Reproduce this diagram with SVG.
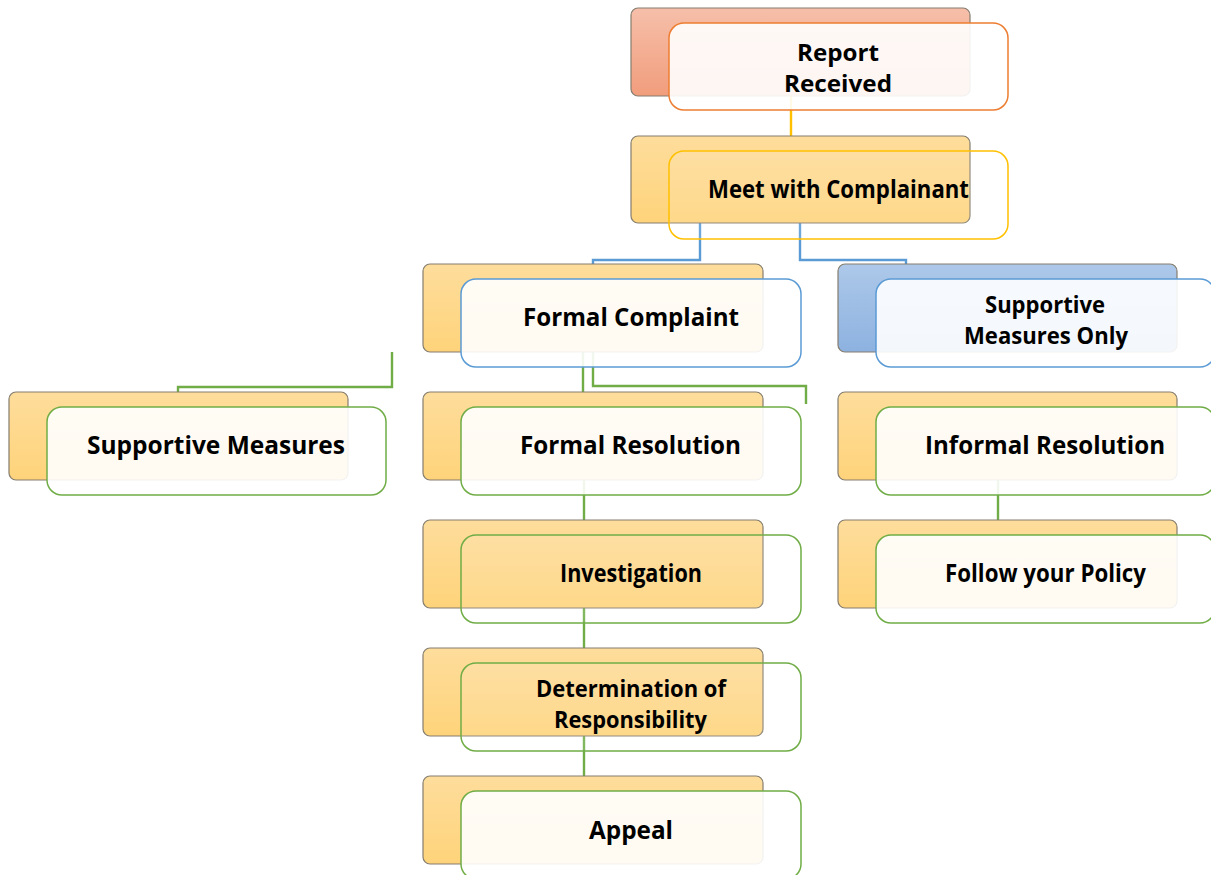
<svg xmlns="http://www.w3.org/2000/svg" width="1211" height="875" viewBox="0 0 1211 875">
<defs>
<linearGradient id="gOr" x1="0" y1="0" x2="0" y2="1"><stop offset="0" stop-color="#fedd9c"/><stop offset="1" stop-color="#fed37a"/></linearGradient>
<linearGradient id="gSal" x1="0" y1="0" x2="0" y2="1"><stop offset="0" stop-color="#f6bfaa"/><stop offset="1" stop-color="#f19d7c"/></linearGradient>
<linearGradient id="gBl" x1="0" y1="0" x2="0" y2="1"><stop offset="0" stop-color="#adc8e9"/><stop offset="1" stop-color="#8db2e0"/></linearGradient>
<style>
.bk{stroke:#857d6e;stroke-width:1.2}
.fr{stroke-width:1.5;fill:#ffffff;fill-opacity:0.9}
.tr{fill-opacity:0.12}
.og{stroke:#ed7d31}
.gd{stroke:#ffc000}
.bl{stroke:#5b9bd5}
.gr{stroke:#70ad47}
.cn{fill:none;stroke-width:2.4}
text{font-family:"Open Sans","Noto Sans","Liberation Sans",sans-serif;font-weight:bold;font-size:25px;fill:#000;text-anchor:middle}
text.two{font-size:22.5px}
</style>
</defs>
<rect width="1211" height="875" fill="#ffffff"/>
<g id="connectors">
<path class="cn" stroke="#ffc000" d="M791,96 V136"/>
<path class="cn" stroke="#5b9bd5" d="M700,223 V260 H593 V264"/>
<path class="cn" stroke="#5b9bd5" d="M800,223 V260 H906 V264"/>
<path class="cn" stroke="#70ad47" d="M583,352 V392"/>
<path class="cn" stroke="#70ad47" d="M593,352 V386 H806 V404"/>
<path class="cn" stroke="#70ad47" d="M392,352 V387 H178 V392"/>
<path class="cn" stroke="#70ad47" d="M584,480 V520"/>
<path class="cn" stroke="#70ad47" d="M584,608 V648"/>
<path class="cn" stroke="#70ad47" d="M584,736 V776"/>
<path class="cn" stroke="#70ad47" d="M998,480 V520"/>
</g>
<g id="report-received">
<rect class="bk" x="631" y="8" width="339" height="88" rx="7" fill="url(#gSal)"/>
<rect class="fr og" x="669" y="23" width="339" height="87" rx="15"/>
<text class="two" x="838" y="61" textLength="82" lengthAdjust="spacingAndGlyphs">Report</text>
<text class="two" x="838" y="92" textLength="108" lengthAdjust="spacingAndGlyphs">Received</text>
</g>
<g id="meet-with-complainant">
<rect class="bk" x="631" y="136" width="339" height="87" rx="7" fill="url(#gOr)"/>
<rect class="fr tr gd" x="669" y="151" width="339" height="88" rx="15"/>
<text x="838.5" y="198" textLength="261" lengthAdjust="spacingAndGlyphs">Meet with Complainant</text>
</g>
<g id="formal-complaint">
<rect class="bk" x="423" y="264" width="340" height="88" rx="7" fill="url(#gOr)"/>
<rect class="fr bl" x="461" y="279" width="340" height="88" rx="15"/>
<text x="631" y="326" textLength="216" lengthAdjust="spacingAndGlyphs">Formal Complaint</text>
</g>
<g id="supportive-measures-only">
<rect class="bk" x="838" y="264" width="339" height="88" rx="7" fill="url(#gBl)"/>
<rect class="fr bl" x="876" y="279" width="339" height="88" rx="15"/>
<text class="two" x="1045" y="313" textLength="120" lengthAdjust="spacingAndGlyphs">Supportive</text>
<text class="two" x="1046" y="344" textLength="164" lengthAdjust="spacingAndGlyphs">Measures Only</text>
</g>
<g id="supportive-measures">
<rect class="bk" x="9" y="392" width="339" height="88" rx="7" fill="url(#gOr)"/>
<rect class="fr gr" x="47" y="407" width="339" height="88" rx="15"/>
<text x="216" y="454" textLength="258" lengthAdjust="spacingAndGlyphs">Supportive Measures</text>
</g>
<g id="formal-resolution">
<rect class="bk" x="423" y="392" width="340" height="88" rx="7" fill="url(#gOr)"/>
<rect class="fr gr" x="461" y="407" width="340" height="88" rx="15"/>
<text x="630.5" y="454" textLength="221" lengthAdjust="spacingAndGlyphs">Formal Resolution</text>
</g>
<g id="informal-resolution">
<rect class="bk" x="838" y="392" width="339" height="88" rx="7" fill="url(#gOr)"/>
<rect class="fr gr" x="876" y="407" width="339" height="88" rx="15"/>
<text x="1045" y="454" textLength="240" lengthAdjust="spacingAndGlyphs">Informal Resolution</text>
</g>
<g id="investigation">
<rect class="bk" x="423" y="520" width="340" height="88" rx="7" fill="url(#gOr)"/>
<rect class="fr tr gr" x="461" y="535" width="340" height="88" rx="15"/>
<text x="631" y="582" textLength="142" lengthAdjust="spacingAndGlyphs">Investigation</text>
</g>
<g id="follow-your-policy">
<rect class="bk" x="838" y="520" width="339" height="88" rx="7" fill="url(#gOr)"/>
<rect class="fr gr" x="876" y="535" width="339" height="88" rx="15"/>
<text x="1045.5" y="582" textLength="201" lengthAdjust="spacingAndGlyphs">Follow your Policy</text>
</g>
<g id="determination-of-responsibility">
<rect class="bk" x="423" y="648" width="340" height="88" rx="7" fill="url(#gOr)"/>
<rect class="fr tr gr" x="461" y="663" width="340" height="88" rx="15"/>
<text class="two" x="631" y="697" textLength="190" lengthAdjust="spacingAndGlyphs">Determination of</text>
<text class="two" x="630.5" y="728" textLength="153" lengthAdjust="spacingAndGlyphs">Responsibility</text>
</g>
<g id="appeal">
<rect class="bk" x="423" y="776" width="340" height="88" rx="7" fill="url(#gOr)"/>
<rect class="fr gr" x="461" y="791" width="340" height="88" rx="15"/>
<text x="631" y="839" textLength="84" lengthAdjust="spacingAndGlyphs">Appeal</text>
</g>
</svg>
